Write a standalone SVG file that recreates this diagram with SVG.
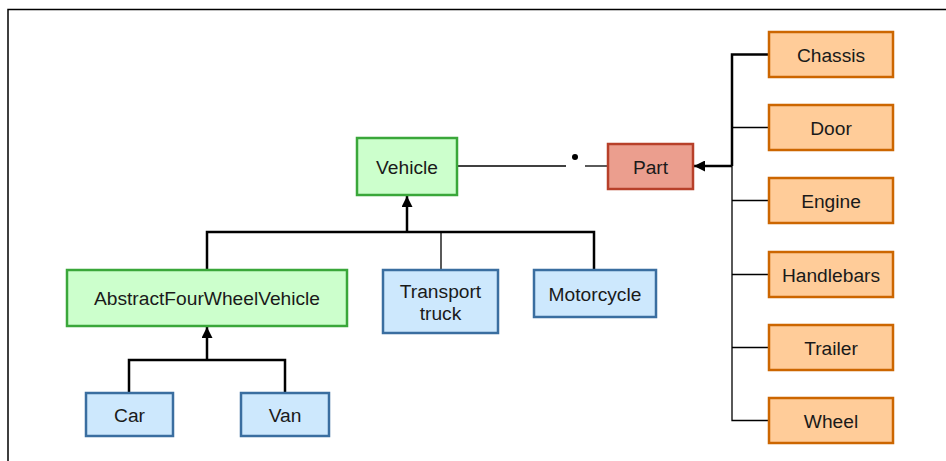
<svg xmlns="http://www.w3.org/2000/svg" width="946" height="461" viewBox="0 0 946 461">
  <defs>
    <marker id="head" viewBox="0 0 10 10" refX="10" refY="5" markerWidth="11" markerHeight="11" markerUnits="userSpaceOnUse" orient="auto">
      <path d="M0,0 L10,5 L0,10 Z" fill="#000"/>
    </marker>
    <style>
      .box text { font-family: "Liberation Sans", Arial, sans-serif; font-size: 19.2px; fill: #1a1a1a; text-anchor: middle; dominant-baseline: central; }
      .green rect { fill: #ccffcc; stroke: #3aa73a; stroke-width: 2.5; }
      .blue rect { fill: #cde8fd; stroke: #3a6ea0; stroke-width: 2.5; }
      .orange rect { fill: #ffcc99; stroke: #cc6600; stroke-width: 2.5; }
      .red rect { fill: #eb9e8e; stroke: #b7402a; stroke-width: 2.5; }
      .thick { stroke: #000; stroke-width: 2.5; fill: none; }
      .thin { stroke: #000; stroke-width: 1.3; fill: none; }
    </style>
  </defs>
  <rect width="946" height="461" fill="#fff"/>
  <!-- outer frame -->
  <path d="M8,461 V9.5 H946" fill="none" stroke="#000" stroke-width="1.5"/>

  <g id="connectors">
    <!-- Vehicle generalisation tree -->
    <path class="thick" d="M207,270 V232 H594 V270"/>
    <path class="thick" d="M407,232 V196" marker-end="url(#head)"/>
    <path class="thin" d="M441,232 V270"/>
    <!-- AbstractFourWheelVehicle tree -->
    <path class="thick" d="M129,393 V360 H285 V393"/>
    <path class="thick" d="M207,360 V327" marker-end="url(#head)"/>
    <!-- Vehicle to Part association -->
    <path class="thin" d="M457,166 H566"/>
    <path class="thin" d="M585,166 H608"/>
    <circle cx="575" cy="157" r="3" fill="#000"/>
    <!-- Part composition -->
    <path class="thick" d="M769,54.5 H732 V166"/>
    <path class="thick" d="M732,166 H694" marker-end="url(#head)"/>
    <path class="thin" d="M732,166 V420.5 H769"/>
    <path class="thin" d="M732,127.5 H769 M732,200.5 H769 M732,274.5 H769 M732,347.5 H769"/>
  </g>

  <g id="vehicle" class="box green">
    <rect x="357" y="138" width="100" height="57"/>
    <text x="407" y="167.5">Vehicle</text>
  </g>
  <g id="abstract-four-wheel-vehicle" class="box green">
    <rect x="67" y="270" width="280" height="56"/>
    <text x="207" y="298.5">AbstractFourWheelVehicle</text>
  </g>
  <g id="transport-truck" class="box blue">
    <rect x="383" y="270" width="115" height="63"/>
    <text x="440.5" y="291.5">Transport</text>
    <text x="440.5" y="313.5">truck</text>
  </g>
  <g id="motorcycle" class="box blue">
    <rect x="534" y="270" width="122" height="47"/>
    <text x="595" y="294.5">Motorcycle</text>
  </g>
  <g id="car" class="box blue">
    <rect x="86" y="393" width="87" height="43"/>
    <text x="129.5" y="415">Car</text>
  </g>
  <g id="van" class="box blue">
    <rect x="241" y="393" width="88" height="43"/>
    <text x="285" y="415">Van</text>
  </g>
  <g id="part" class="box red">
    <rect x="608" y="144" width="85" height="45"/>
    <text x="650.5" y="167">Part</text>
  </g>
  <g id="chassis" class="box orange">
    <rect x="769" y="32" width="124" height="45"/>
    <text x="831" y="55">Chassis</text>
  </g>
  <g id="door" class="box orange">
    <rect x="769" y="105" width="124" height="45"/>
    <text x="831" y="128">Door</text>
  </g>
  <g id="engine" class="box orange">
    <rect x="769" y="178" width="124" height="45"/>
    <text x="831" y="201">Engine</text>
  </g>
  <g id="handlebars" class="box orange">
    <rect x="769" y="252" width="124" height="45"/>
    <text x="831" y="275">Handlebars</text>
  </g>
  <g id="trailer" class="box orange">
    <rect x="769" y="325" width="124" height="45"/>
    <text x="831" y="348">Trailer</text>
  </g>
  <g id="wheel" class="box orange">
    <rect x="769" y="398" width="124" height="45"/>
    <text x="831" y="421">Wheel</text>
  </g>
</svg>
